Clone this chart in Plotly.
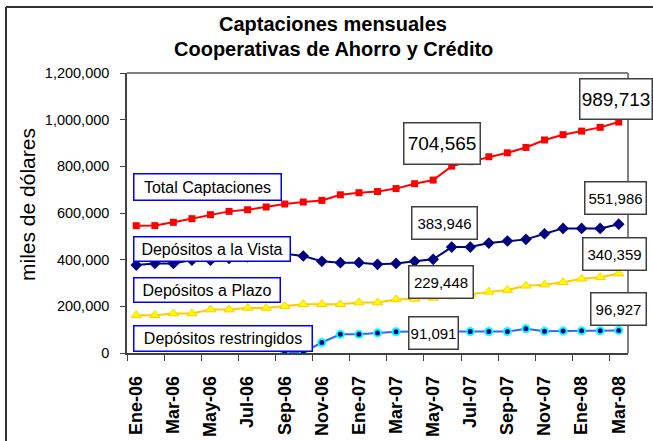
import plotly.graph_objects as go

# ---------------- data ----------------
months = ["Ene-06", "Feb-06", "Mar-06", "Abr-06", "May-06", "Jun-06", "Jul-06", "Ago-06",
          "Sep-06", "Oct-06", "Nov-06", "Dic-06", "Ene-07", "Feb-07", "Mar-07", "Abr-07",
          "May-07", "Jun-07", "Jul-07", "Ago-07", "Sep-07", "Oct-07", "Nov-07", "Dic-07",
          "Ene-08", "Feb-08", "Mar-08"]

total = [545600, 546000, 560000, 575600, 592700, 607000, 614000, 625700, 638600,
         647000, 654000, 678000, 687000, 692000, 704565, 725600, 741000, 801000,
         820000, 841000, 858000, 881000, 913000, 935600, 951000, 967000, 989713]

vista = [377000, 384000, 384000, 398000, 398000, 405000, 412000, 420000, 425000,
         415700, 393000, 387000, 387000, 380000, 383946, 393000, 401400, 454000,
         454000, 471000, 480000, 487000, 511000, 534000, 534000, 534000, 551986]

plazo = [162000, 162000, 169000, 169000, 186000, 186000, 193000, 193000, 201000,
         209000, 209000, 209000, 216000, 216000, 229448, 232000, 236000, 242000,
         253000, 262000, 270000, 288000, 293000, 303000, 318000, 325000, 340359]

restringidos = [None, None, None, None, None, None, None, None, 0,
                3000, 45000, 80000, 80000, 86000, 91091, 92000, 92000, 92000,
                92000, 92000, 92000, 104000, 93000, 94000, 95000, 95000, 96927]

series_names = ["Total Captaciones", "Depósitos a la Vista", "Depósitos a Plazo",
                "Depósitos restringidos"]

tick_labels = months[::2]
title_lines = ["Captaciones mensuales", "Cooperativas de Ahorro y Crédito"]
y_title = "miles de dólares"

# ---------------- figure ----------------
W, H = 653, 441
ML, MR, MT, MB = 127, 25, 73, 88
PW, PH = W - ML - MR, H - MT - MB
FONT = "Arial, Liberation Sans, sans-serif"

x_idx = list(range(len(months)))

fig = go.Figure()

fig.add_trace(go.Scatter(
    x=x_idx, y=total, mode="lines+markers", name=series_names[0],
    line=dict(color="#FF0000", width=2),
    marker=dict(symbol="square", size=7, color="#FF0000"),
    customdata=months, hovertemplate="%{customdata}: %{y:,}<extra></extra>"))

fig.add_trace(go.Scatter(
    x=x_idx, y=vista, mode="lines+markers", name=series_names[1],
    line=dict(color="#000080", width=2),
    marker=dict(symbol="diamond", size=9, color="#000080"),
    customdata=months, hovertemplate="%{customdata}: %{y:,}<extra></extra>"))

fig.add_trace(go.Scatter(
    x=x_idx, y=plazo, mode="lines+markers", name=series_names[2],
    line=dict(color="#FFCC00", width=2),
    marker=dict(symbol="triangle-up", size=9, color="#FFFF00",
                line=dict(color="#FFCC00", width=1)),
    customdata=months, hovertemplate="%{customdata}: %{y:,}<extra></extra>"))

fig.add_trace(go.Scatter(
    x=x_idx, y=restringidos, mode="lines+markers", name=series_names[3],
    line=dict(color="#3366FF", width=2),
    marker=dict(symbol="circle", size=7, color="#000080",
                line=dict(color="#00FFFF", width=2)),
    customdata=months, hovertemplate="%{customdata}: %{y:,}<extra></extra>"))


def px_x(px):
    return (px - ML) / PW


def px_y(py):
    return (H - MB - py) / PH


def box(text, cx, cy, w, h, size, border):
    fig.add_annotation(
        text=text, xref="paper", yref="paper", x=px_x(cx), y=px_y(cy),
        xanchor="center", yanchor="middle", showarrow=False,
        width=w, height=h, align="center", valign="middle",
        font=dict(family=FONT, size=size, color="black"),
        bgcolor="white", bordercolor=border, borderwidth=1.5, borderpad=0)


# title lines
for line, cy in zip(title_lines, (24, 49)):
    fig.add_annotation(
        text=line, xref="paper", yref="paper", x=px_x(333), y=px_y(cy),
        xanchor="center", yanchor="middle", showarrow=False,
        font=dict(family=FONT, size=20, color="black", weight="bold"))

# y axis title
fig.add_annotation(
    text=y_title, xref="paper", yref="paper", x=px_x(27), y=px_y(205),
    xanchor="center", yanchor="middle", showarrow=False, textangle=-90,
    font=dict(family=FONT, size=21, color="black"))

# series name boxes
box(series_names[0], 207, 186.5, 146, 25, 16, "#0000FF")
box(series_names[1], 211.5, 248.5, 155, 23, 16, "#0000FF")
box(series_names[2], 206.5, 290, 145, 23, 16, "#0000FF")
box(series_names[3], 222.5, 338.5, 177, 24, 16, "#0000FF")

# value boxes (Mar-07 and Mar-08)
i_mid = months.index("Mar-07")
i_end = len(months) - 1
box(f"{total[i_mid]:,}", 442, 143.5, 75, 40, 19, "#404040")
box(f"{total[i_end]:,}", 616, 99, 71, 39, 19, "#404040")
box(f"{vista[i_mid]:,}", 444.5, 223, 64, 31, 15, "#404040")
box(f"{vista[i_end]:,}", 615, 197.5, 60, 31, 15, "#404040")
box(f"{plazo[i_mid]:,}", 441, 282, 63, 31, 15, "#404040")
box(f"{plazo[i_end]:,}", 614, 254, 62, 31, 15, "#404040")
box(f"{restringidos[i_mid]:,}", 433.5, 333, 48, 31, 15, "#404040")
box(f"{restringidos[i_end]:,}", 618, 309, 54, 31, 15, "#404040")

# plot area top / right border (gray) and outer chart frame
fig.add_shape(type="line", xref="paper", yref="paper", x0=0, x1=1, y0=1, y1=1,
              line=dict(color="#808080", width=2))
fig.add_shape(type="line", xref="paper", yref="paper", x0=1, x1=1, y0=0, y1=1,
              line=dict(color="#808080", width=2))
fig.add_shape(type="line", xref="paper", yref="paper", x0=px_x(6), x1=px_x(6),
              y0=px_y(460), y1=px_y(7), line=dict(color="#333333", width=2))
fig.add_shape(type="line", xref="paper", yref="paper", x0=px_x(6), x1=px_x(670),
              y0=px_y(7), y1=px_y(7), line=dict(color="#333333", width=2))

fig.update_layout(
    width=W, height=H,
    margin=dict(l=ML, r=MR, t=MT, b=MB, autoexpand=False),
    paper_bgcolor="white", plot_bgcolor="white",
    showlegend=False,
    font=dict(family=FONT, color="black"),
    xaxis=dict(
        range=[-0.5, len(months) - 0.5], tickmode="array",
        tickvals=x_idx[::2], ticktext=tick_labels, ticks="", ticklen=0,
        tickangle=-90, ticklabelstandoff=14,
        tickfont=dict(family=FONT, size=18, color="black", weight="bold"),
        minor=dict(tick0=-0.5, dtick=2, ticks="outside", ticklen=6,
                   tickcolor="#404040", tickwidth=1, showgrid=False),
        showline=True, linecolor="#404040", linewidth=1.5,
        showgrid=False, zeroline=False, fixedrange=True),
    yaxis=dict(
        range=[0, 1200000], dtick=200000, tickformat=",",
        ticks="outside", ticklen=5, tickcolor="#404040", ticklabelstandoff=8,
        tickfont=dict(family=FONT, size=14.5, color="black"),
        showline=True, linecolor="#404040", linewidth=1.5,
        showgrid=False, zeroline=False, fixedrange=True),
)

fig.write_html("out.html",
               config={"displayModeBar": False},
               post_script="document.body.style.margin='0';"
                           "document.body.style.overflow='hidden';")
